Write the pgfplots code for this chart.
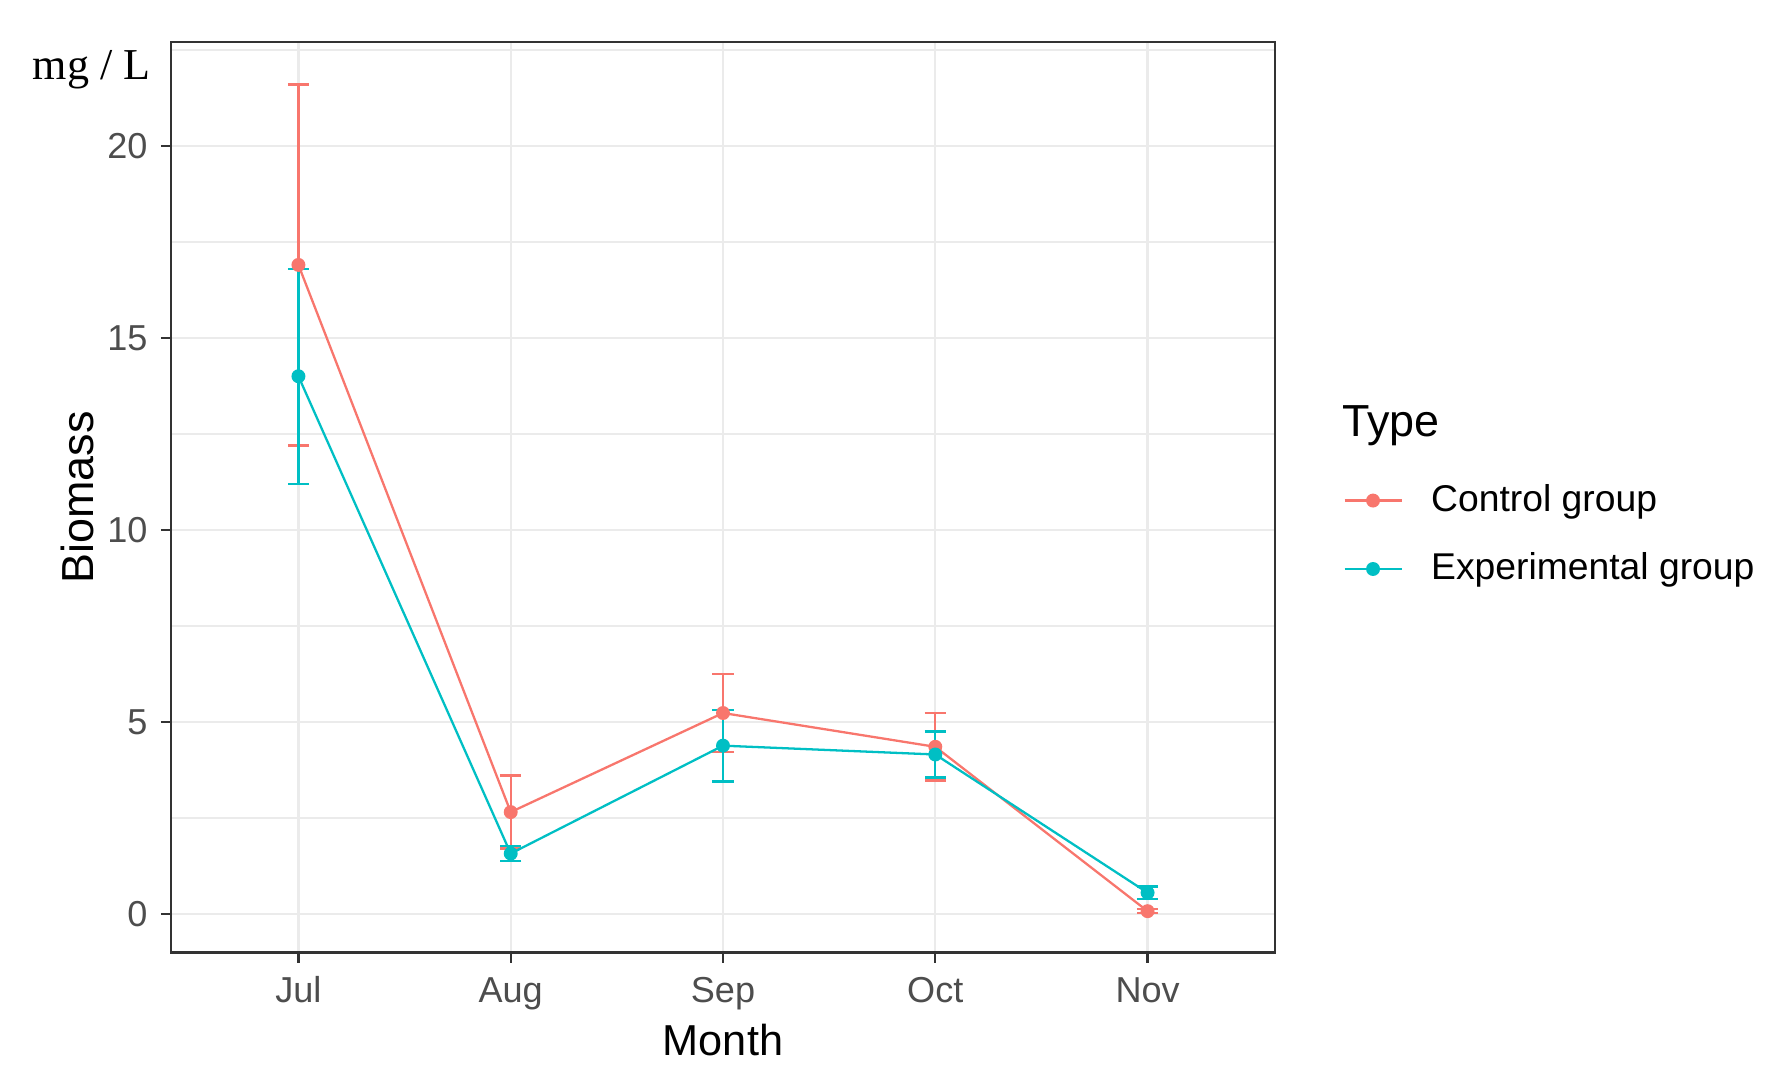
\documentclass[border=0pt]{standalone}
\usepackage{pgfplots}
\pgfplotsset{compat=1.18}
\usepackage{fontspec}
\setmainfont{Liberation Sans}
\newfontfamily\timesfont{Liberation Serif}
\definecolor{ctrl}{HTML}{F8766D}
\definecolor{expg}{HTML}{00BFC4}
\definecolor{gridgrey}{HTML}{EBEBEB}
\definecolor{framegrey}{HTML}{333333}
\definecolor{tickgrey}{HTML}{4D4D4D}

% month index, mean, error
\pgfplotstableread{
x y err
0 16.90 4.70
1 2.65 0.95
2 5.23 1.02
3 4.35 0.88
4 0.07 0.05
}\control
\pgfplotstableread{
x y err
0 14.00 2.80
1 1.57 0.20
2 4.38 0.93
3 4.15 0.60
4 0.55 0.16
}\experimental

\begin{document}
\begin{tikzpicture}
\begin{axis}[
    scale only axis,
    width=9.68cm, height=7.98cm,
    clip=false,
    xmin=-0.6, xmax=4.6,
    ymin=-1.0, ymax=22.7,
    xtick={0,1,2,3,4},
    xticklabels={Jul,Aug,Sep,Oct,Nov},
    ytick={0,5,10,15,20},
    minor ytick={2.5,7.5,12.5,17.5,22.5},
    minor tick length=0pt,
    tick pos=left,
    tick align=outside,
    major tick length=0.9mm,
    tick style={framegrey, line width=0.55pt},
    axis line style={framegrey, line width=0.65pt},
    xmajorgrids, ymajorgrids, yminorgrids,
    major grid style={gridgrey, line width=0.55pt},
    minor grid style={gridgrey, line width=0.4pt},
    /pgf/number format/assume math mode=true,
    ticklabel style={font=\fontsize{9.0}{11}\selectfont, text=tickgrey, inner sep=0pt},
    xticklabel style={anchor=base, yshift=-3.5mm},
    yticklabel style={anchor=east, xshift=-1.1mm},
    xlabel={Month},
    ylabel={Biomass},
    label style={text=black, inner sep=0pt},
    xlabel style={font=\fontsize{10.8}{13}\selectfont,
        at={(axis description cs:0.5,-0.1137)}, anchor=base},
    ylabel style={font=\fontsize{11.2}{13}\selectfont,
        at={(axis description cs:-0.0699,0.5)}, anchor=base},
    legend cell align=left,
    legend image code/.code={
        \draw[#1] (0cm,0cm) -- (0.5cm,0cm);
        \draw[#1] plot coordinates {(0.25cm,0cm)};
    },
    legend style={draw=none, fill=none,
        at={(axis description cs:1.0620,0.517)}, anchor=north west,
        inner sep=0pt, outer sep=0pt, row sep=2.7mm, column sep=2.5mm,
        font=\fontsize{9.3}{11}\selectfont, text=black,
        nodes={inner sep=0pt, text height=2.6mm, text depth=0.7mm}},
    every axis plot/.append style={line width=0.57pt},
]
\addplot[ctrl, mark=*, mark size=1.45pt,
    error bars/.cd, y dir=both, y explicit, error mark=|,
    error mark options={ctrl, mark size=2.66pt, line width=0.57pt},
    error bar style={line width=0.57pt}]
    table[x=x, y=y, y error=err] {\control};
\addlegendentry{Control group}
\addplot[expg, mark=*, mark size=1.45pt,
    error bars/.cd, y dir=both, y explicit, error mark=|,
    error mark options={expg, mark size=2.66pt, line width=0.57pt},
    error bar style={line width=0.57pt}]
    table[x=x, y=y, y error=err] {\experimental};
\addlegendentry{Experimental group}

\node[anchor=base west, inner sep=0pt, font=\fontsize{11.2}{13}\selectfont]
    at (axis description cs:1.0604,0.567) {Type};
\node[anchor=base west, inner sep=0pt, font=\timesfont\fontsize{11.0}{13}\selectfont]
    at (axis description cs:-0.1260,0.9588) {mg / L};
\coordinate (bl) at (rel axis cs:0,0);
\end{axis}
\pgfresetboundingbox
\path[use as bounding box] (bl) ++(-1.50cm,-1.165cm) rectangle ++(15.60cm,9.515cm);
\end{tikzpicture}
\end{document}
